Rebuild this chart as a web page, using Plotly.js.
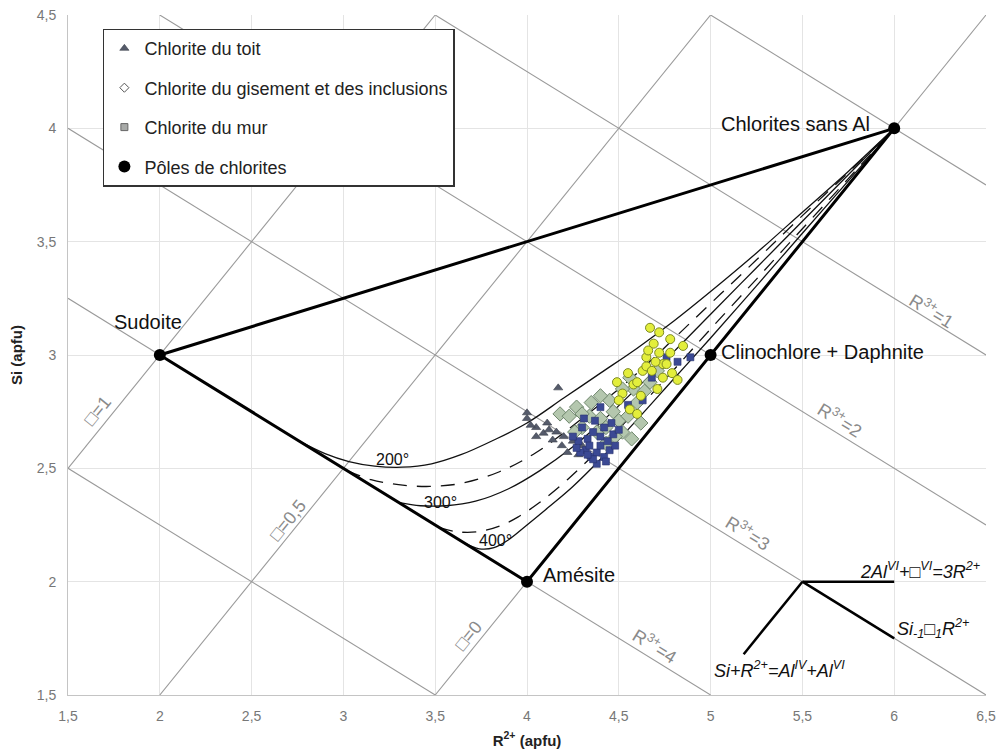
<!DOCTYPE html>
<html><head><meta charset="utf-8">
<script src="https://cdn.plot.ly/plotly-3.0.1.min.js"></script>
<style>body{margin:0;background:#fff}#c{width:1000px;height:751px}</style>
</head><body><div id="c"></div>
<script>
// ---- ticks ----
const tickVals = [1.5, 2, 2.5, 3, 3.5, 4, 4.5, 5, 5.5, 6, 6.5];
const xTickText = ['1,5','2','2,5','3','3,5','4','4,5','5','5,5','6','6,5'];
const yTickVals = [1.5, 2, 2.5, 3, 3.5, 4, 4.5];
const yTickText = ['1,5','2','2,5','3','3,5','4','4,5'];

// ---- reference lines (endpoints) ----
const rLineNames = ['R³⁺=0','R³⁺=1','R³⁺=2','R³⁺=3','R³⁺=4','R³⁺=5'];
const rLineX1 = [5.0, 3.5, 2.0, 1.5, 1.5, 1.5];
const rLineY1 = [4.5, 4.5, 4.5, 4.0, 3.25, 2.5];
const rLineX2 = [6.5, 6.5, 6.5, 6.5, 5.0, 3.5];
const rLineY2 = [3.75, 3.0, 2.25, 1.5, 1.5, 1.5];
const vLineNames = ['□=1','□=0,5','□=0'];
const vLineX1 = [1.5, 2.0, 3.5];
const vLineY1 = [2.5, 1.5, 1.5];
const vLineX2 = [3.5, 5.0, 6.5];
const vLineY2 = [4.5, 4.5, 4.5];

// ---- chlorite poles ----
const poleNames = ['Sudoite','Amésite','Clinochlore + Daphnite','Chlorites sans Al'];
const poleX = [2, 4, 5, 6];
const poleY = [3, 2, 3, 4];
// triangle outline: Sudoite -> Chlorites sans Al -> Amésite -> Sudoite
const triX = [2, 6, 4, 2];
const triY = [3, 4, 2, 3];

// ---- isotherms ----
const t200X = [2.76, 2.90, 3.03, 3.17, 3.32, 3.48, 3.64, 3.82, 4.00, 4.20, 4.40, 4.60, 4.80, 5.00, 5.25, 5.50, 5.75, 6.00];
const t200Y = [2.62, 2.565, 2.53, 2.51, 2.505, 2.52, 2.56, 2.625, 2.70, 2.81, 2.92, 3.03, 3.15, 3.28, 3.45, 3.63, 3.81, 4.00];
const t250X = [3.02, 3.15, 3.30, 3.47, 3.65, 3.85, 4.05, 4.30, 4.60, 4.90, 5.25, 5.50, 5.75, 6.00];
const t250Y = [2.49, 2.45, 2.428, 2.42, 2.435, 2.485, 2.57, 2.72, 2.92, 3.15, 3.42, 3.615, 3.805, 4.00];
const t300X = [3.30, 3.42, 3.56, 3.72, 3.90, 4.07, 4.25, 4.40, 4.60, 4.80, 5.00, 5.25, 5.50, 5.75, 6.00];
const t300Y = [2.35, 2.335, 2.335, 2.355, 2.41, 2.49, 2.595, 2.70, 2.855, 3.015, 3.18, 3.385, 3.59, 3.795, 4.00];
const t350X = [3.52, 3.62, 3.73, 3.85, 3.95, 4.07, 4.22, 4.40, 4.60, 4.80, 5.00, 5.25, 5.50, 5.75, 6.00];
const t350Y = [2.24, 2.22, 2.22, 2.245, 2.285, 2.35, 2.45, 2.59, 2.76, 2.935, 3.115, 3.335, 3.557, 3.778, 4.00];
const t400X = [3.66, 3.74, 3.82, 3.90, 4.00, 4.12, 4.25, 4.40, 4.60, 4.80, 5.00, 5.25, 5.50, 5.75, 6.00];
const t400Y = [2.17, 2.145, 2.15, 2.185, 2.25, 2.33, 2.42, 2.54, 2.715, 2.895, 3.075, 3.305, 3.537, 3.768, 4.00];
const tempLabels = ['200°','300°','400°'];
const tempLabelX = [3.27, 3.53, 3.83];
const tempLabelY = [2.537, 2.35, 2.18];

// ---- analyses ----
const toitX = [4.00, 4.00, 4.17, 4.05, 4.11, 4.05, 4.09, 4.16, 4.14, 4.22, 4.19, 4.28, 4.25, 4.12, 4.30, 4.35, 4.02, 4.20];
const toitY = [2.745, 2.72, 2.855, 2.68, 2.70, 2.64, 2.655, 2.66, 2.625, 2.57, 2.60, 2.56, 2.62, 2.67, 2.60, 2.55, 2.69, 2.64];
const gisVertX = [4.18, 4.23, 4.27, 4.30, 4.34, 4.38, 4.43, 4.43, 4.52, 4.56, 4.58, 4.67, 4.71, 4.35, 4.40, 4.47, 4.50, 4.55, 4.48, 4.60, 4.62, 4.57, 4.45, 4.52, 4.40, 4.30, 4.26, 4.64];
const gisVertY = [2.74, 2.73, 2.77, 2.68, 2.73, 2.66, 2.68, 2.61, 2.66, 2.90, 2.85, 2.88, 2.93, 2.79, 2.72, 2.75, 2.71, 2.73, 2.64, 2.79, 2.70, 2.63, 2.80, 2.85, 2.82, 2.74, 2.66, 2.84];
const gisJauneX = [4.67, 4.69, 4.72, 4.78, 4.85, 4.63, 4.65, 4.49, 4.52, 4.50, 4.56, 4.60, 4.74, 4.79, 4.71, 4.74, 4.82, 4.72, 4.65, 4.78, 4.58, 4.62, 4.68, 4.55, 4.70, 4.60, 4.76, 4.66];
const gisJauneY = [3.12, 3.05, 3.01, 3.01, 3.04, 2.93, 2.95, 2.88, 2.83, 2.80, 2.76, 2.74, 2.90, 2.92, 2.85, 2.96, 2.89, 3.10, 2.99, 3.07, 2.87, 2.82, 2.93, 2.92, 2.97, 2.88, 2.96, 3.02];
const murX = [4.28, 4.32, 4.35, 4.38, 4.40, 4.42, 4.45, 4.33, 4.36, 4.30, 4.25, 4.40, 4.44, 4.47, 4.38, 4.34, 4.29, 4.42, 4.46, 4.37, 4.31, 4.50, 4.48, 4.27, 4.40, 4.63, 4.76, 4.82, 4.89, 4.55, 4.68, 4.36, 4.43, 4.33];
const murY = [2.62, 2.58, 2.55, 2.57, 2.60, 2.55, 2.58, 2.63, 2.66, 2.68, 2.64, 2.64, 2.62, 2.65, 2.52, 2.60, 2.57, 2.68, 2.70, 2.71, 2.72, 2.67, 2.60, 2.59, 2.77, 2.80, 2.99, 2.97, 2.99, 2.78, 2.90, 2.54, 2.53, 2.56];

// ---- substitution vectors ----
const vecOriginX = 5.5, vecOriginY = 2.0;
const vecEndX = [6.0, 6.0, 5.18];
const vecEndY = [2.0, 1.75, 1.68];
const vecLabels = ['2Al<sup>VI</sup>+□<sup>VI</sup>=3R<sup>2+</sup>', 'Si<sub>-1</sub>□<sub>1</sub>R<sup>2+</sup>', 'Si+R<sup>2+</sup>=Al<sup>IV</sup>+Al<sup>VI</sup>'];

const legendNames = ['Chlorite du toit','Chlorite du gisement et des inclusions','Chlorite du mur','Pôles de chlorites'];

// ================== build ==================
const FONT = 'Liberation Sans, DejaVu Sans, Arial, sans-serif';
const traces = [];
function seg(x1,y1,x2,y2){ const xs=[],ys=[]; for(let i=0;i<x1.length;i++){xs.push(x1[i],x2[i],null);ys.push(y1[i],y2[i],null);} return [xs,ys]; }
let [rx, ry] = seg(rLineX1, rLineY1, rLineX2, rLineY2);
traces.push({x:rx, y:ry, mode:'lines', line:{color:'#9a9a9a', width:1.1}, showlegend:false, hoverinfo:'skip'});
let [vx, vy] = seg(vLineX1, vLineY1, vLineX2, vLineY2);
traces.push({x:vx, y:vy, mode:'lines', line:{color:'#9a9a9a', width:1.1}, showlegend:false, hoverinfo:'skip'});

const curve = (x,y,dash) => ({x, y, mode:'lines', line:{color:'#111', width:1.3, shape:'spline', smoothing:1, dash}, showlegend:false, hoverinfo:'skip'});
traces.push(curve(t200X, t200Y, 'solid'));
traces.push(curve(t250X, t250Y, '14px,10px'));
traces.push(curve(t300X, t300Y, 'solid'));
traces.push(curve(t350X, t350Y, '14px,10px'));
traces.push(curve(t400X, t400Y, 'solid'));

traces.push({x:triX, y:triY, mode:'lines', line:{color:'#000', width:3}, showlegend:false, hoverinfo:'skip'});

// vectors
const vX=[], vY=[];
for(let i=0;i<vecEndX.length;i++){ vX.push(vecOriginX, vecEndX[i], null); vY.push(vecOriginY, vecEndY[i], null); }
traces.push({x:vX, y:vY, mode:'lines', line:{color:'#000', width:2.5}, showlegend:false, hoverinfo:'skip'});

// data points
traces.push({x:toitX, y:toitY, mode:'markers', name:legendNames[0], legendrank:1, legendgroup:'a',
  marker:{symbol:'triangle-up', size:8, color:'#555b6b', line:{color:'#3a3f4a', width:0.6}}});
traces.push({x:gisVertX, y:gisVertY, mode:'markers', showlegend:false,
  marker:{symbol:'diamond', size:11, color:'#b4c7ae', line:{color:'#6e866c', width:1}}});
traces.push({x:murX, y:murY, mode:'markers', name:legendNames[2], showlegend:false,
  marker:{symbol:'square', size:7, color:'#3b4994', line:{color:'#28336e', width:0.6}}});
traces.push({x:gisJauneX, y:gisJauneY, mode:'markers', showlegend:false,
  marker:{symbol:'circle', size:9, color:'#e3ee3c', line:{color:'#7d8a22', width:1}}});
// legend entries (styles only)
traces.push({x:[null], y:[null], mode:'markers', name:legendNames[1], legendrank:2, legendgroup:'b',
  marker:{symbol:'diamond', size:7, color:'#ffffff', line:{color:'#555', width:1}}});
traces.push({x:[null], y:[null], mode:'markers', name:legendNames[2], legendrank:3, legendgroup:'c',
  marker:{symbol:'square', size:7, color:'#a8aaa8', line:{color:'#666', width:1}}});
traces.push({x:poleX, y:poleY, mode:'markers', name:legendNames[3], legendrank:4, legendgroup:'d',
  marker:{symbol:'circle', size:12, color:'#000'}});

// annotations
const ann = [];
const poleAnn = [
  {xanchor:'center', yanchor:'middle', xshift:-12, yshift:33},
  {xanchor:'left', yanchor:'middle', xshift:14, yshift:7},
  {xanchor:'left', yanchor:'middle', xshift:8, yshift:3},
  {xanchor:'right', yanchor:'middle', xshift:-22, yshift:4}
];
for(let i=0;i<poleNames.length;i++){
  ann.push(Object.assign({x:poleX[i], y:poleY[i], text:poleNames[i], showarrow:false, font:{family:FONT, size:20, color:'#111'}}, poleAnn[i]));
}
for(let i=0;i<tempLabels.length;i++){
  ann.push({x:tempLabelX[i], y:tempLabelY[i], text:tempLabels[i], showarrow:false, font:{family:FONT, size:16, color:'#111'}});
}
const rLabelX = [6.205, 5.704, 5.203, 4.696];
const rLabelY = [3.198, 2.714, 2.216, 1.718];
for(let i=0;i<4;i++){
  ann.push({x:rLabelX[i], y:rLabelY[i], text:'R<sup>3+</sup>=' + (i+1), textangle:31.7, showarrow:false, font:{family:FONT, size:18, color:'#8a8a8a'}});
}
const vLabelX = [1.66, 2.70, 3.68];
const vLabelY = [2.753, 2.27, 1.76];
for(let i=0;i<3;i++){
  ann.push({x:vLabelX[i], y:vLabelY[i], text:vLineNames[i], textangle:-51, showarrow:false, font:{family:FONT, size:18, color:'#8a8a8a'}});
}
const vecAnn = [
  {x:6.48, y:2.05, xanchor:'right'},
  {x:6.005, y:1.793, xanchor:'left'},
  {x:5.377, y:1.612, xanchor:'center'}
];
for(let i=0;i<3;i++){
  ann.push(Object.assign({text:'<i>'+vecLabels[i]+'</i>', showarrow:false, yanchor:'middle', font:{family:FONT, size:18, color:'#111'}}, vecAnn[i]));
}

const layout = {
  width:1000, height:751,
  margin:{l:68, r:14, t:15, b:56},
  paper_bgcolor:'#fff', plot_bgcolor:'#fff',
  font:{family:FONT},
  showlegend:true,
  legend:{x:0.038, y:0.98, xanchor:'left', yanchor:'top', bgcolor:'#fff', bordercolor:'#333', borderwidth:1.5,
    font:{family:FONT, size:18, color:'#222'}, tracegroupgap:13, traceorder:'grouped', itemclick:false},
  xaxis:{range:[1.5,6.5], tickvals:tickVals, ticktext:xTickText, showgrid:true, gridcolor:'#e4e4e4', gridwidth:1,
    zeroline:false, showline:true, linecolor:'#c4c4c4', linewidth:1, ticks:'', ticklabelstandoff:8,
    tickfont:{family:FONT, size:14, color:'#777'},
    title:{text:'<b>R<sup>2+</sup> (apfu)</b>', font:{family:FONT, size:15, color:'#222'}, standoff:12}},
  yaxis:{range:[1.5,4.5], tickvals:yTickVals, ticktext:yTickText, showgrid:true, gridcolor:'#e4e4e4', gridwidth:1,
    zeroline:false, showline:true, linecolor:'#c4c4c4', linewidth:1, ticks:'', ticklabelstandoff:8,
    tickfont:{family:FONT, size:14, color:'#777'},
    title:{text:'<b>Si (apfu)</b>', font:{family:FONT, size:15, color:'#222'}, standoff:10}},
  annotations:ann
};
Plotly.newPlot('c', traces, layout, {staticPlot:true, displayModeBar:false});
</script></body></html>
